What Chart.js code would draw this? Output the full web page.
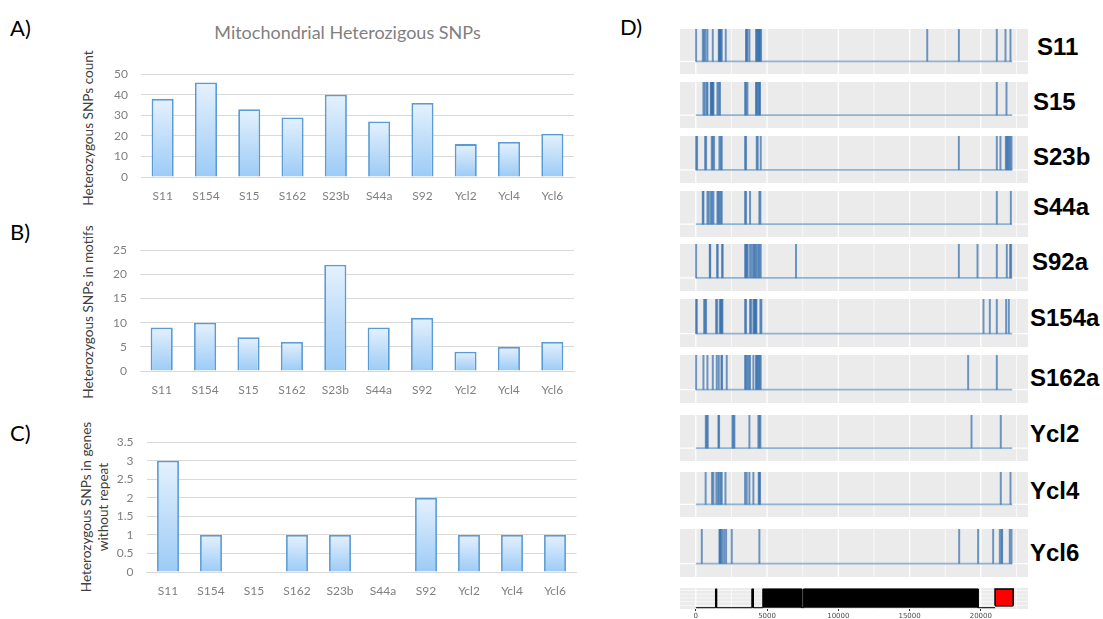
<!DOCTYPE html>
<html>
<head>
<meta charset="utf-8">
<script src="https://cdn.jsdelivr.net/npm/chart.js@4.4.1/dist/chart.umd.min.js"></script>
<style>
  html, body { margin: 0; padding: 0; background: #fff; }
  body { width: 1103px; height: 619px; position: relative; overflow: hidden; font-family: Lato, sans-serif; }
  canvas { position: absolute; display: block; }
  .letter { position: absolute; font: 22px Lato, sans-serif; color: #000; line-height: 1; transform: translateY(-50%); }
  .track-name { position: absolute; font: bold 24px "Liberation Sans", Arial, sans-serif; color: #000; line-height: 1; transform: translateY(-50%); }
  .ytitle { position: absolute; font: 13.6px Lato, sans-serif; color: #404040; line-height: 17px; text-align: center; white-space: nowrap;
            transform: translate(-50%, -50%) rotate(-90deg); }
  #mainTitle { position: absolute; left: 0; width: 695px; top: 22px; text-align: center; font: 18px Lato, sans-serif; color: #7f7f7f; line-height: 1.2; }
</style>
</head>
<body>
<div id="mainTitle">Mitochondrial Heterozigous SNPs</div>
<div class="letter" style="left:10px; top:28px;">A)</div>
<div class="letter" style="left:10px; top:232px;">B)</div>
<div class="letter" style="left:10px; top:433px;">C)</div>
<div class="letter" style="left:620px; top:27px;">D)</div>
<div class="ytitle" style="left:88px; top:128px;">Heterozygous SNPs count</div>
<div class="ytitle" style="left:88px; top:312px;">Heterozygous SNPs in motifs</div>
<div class="ytitle" style="left:95px; top:507px;">Heterozygous SNPs in genes<br>without repeat</div>

<script>
// ---- Bar chart data (panels A–C) ----
const samples = ['S11', 'S154', 'S15', 'S162', 'S23b', 'S44a', 'S92', 'Ycl2', 'Ycl4', 'Ycl6'];
const snpCount = [38, 46, 33, 29, 40, 27, 36, 16, 17, 21];
const snpInMotifs = [9, 10, 7, 6, 22, 9, 11, 4, 5, 6];
const snpInGenesNoRepeat = [3, 1, 0, 1, 1, 0, 2, 1, 1, 1];

// ---- SNP positions along the mitochondrial genome (panel D) ----
const trackNames = ['S11', 'S15', 'S23b', 'S44a', 'S92a', 'S154a', 'S162a', 'Ycl2', 'Ycl4', 'Ycl6'];
const posS11 = [20, 490, 580, 680, 815, 1190, 1610, 1650, 1680, 1720, 1750, 1820, 2100, 3525, 3560, 3620, 3760,
  4230, 4275, 4320, 4390, 4420, 4460, 4510, 4580, 16240, 18460, 21120, 21730, 22080];
const posS15 = [535, 630, 770, 815, 1050, 1080, 1120, 1160, 1190, 1236, 1516, 1610, 1700, 3456, 3526, 3620,
  4227, 4260, 4320, 4414, 4460, 4507, 21120, 21800];
const posS23b = [21, 91, 652, 722, 1120, 1190, 1283, 1656, 1750, 1820, 3456, 3526, 4274, 4344, 4554, 18458,
  21122, 21378, 21752, 21822, 21892, 21962, 22055, 22150];
const posS44a = [488, 535, 815, 909, 1049, 1143, 1236, 1516, 1586, 1656, 1750, 1820, 3456, 3526, 3806, 4460,
  4530, 21122, 22104];
const posS92a = [21, 980, 1010, 1500, 1530, 1850, 1880, 3456, 3526, 3573, 3643, 3806, 3923, 4040, 4110, 4180,
  4274, 4390, 4460, 4554, 7031, 18458, 19766, 21122, 21822, 22055, 22125];
const posS154a = [21, 68, 582, 652, 722, 1423, 1493, 1680, 1750, 1780, 1820, 1867, 3456, 3526, 3806, 3876, 4040,
  4110, 4140, 4180, 4210, 4250, 4530, 4600, 20187, 20630, 21122, 21775, 21962];
const posS162a = [21, 535, 815, 1190, 1470, 1610, 1797, 1843, 2170, 3456, 3526, 3620, 3713, 3806, 4040, 4227,
  4274, 4344, 4414, 4484, 4554, 19111, 21122];
const posYcl2 = [699, 769, 839, 1586, 1633, 2568, 2638, 2708, 3760, 4390, 4460, 4530, 19347, 21400];
const posYcl4 = [690, 1140, 1236, 1440, 1560, 1656, 1750, 1820, 2080, 3456, 3573, 3760, 4040, 4414, 4460, 4507,
  21400, 22082];
const posYcl6 = [420, 1656, 1700, 1750, 1843, 1985, 2124, 2521, 4460, 18480, 19810, 20865, 21333, 21450, 21494,
  22030, 22150];
const trackPositions = [posS11, posS15, posS23b, posS44a, posS92a, posS154a, posS162a, posYcl2, posYcl4, posYcl6];

// genome extent and annotation track
const genomeSpan = [0, 22200];
const geneSpans = [[1380, 1460], [3930, 4040], [4700, 7440], [7560, 19810]];
const markerBox = [21000, 22270];
const axisTicks = [0, 5000, 10000, 15000, 20000];

// ---- layout ----
const X_MIN = -1110, X_MAX = 23310;
const trackTops = [29, 82, 136, 191, 244, 299, 355, 415, 472, 529];
const trackHeights = [45, 46, 47, 46, 47, 48, 48, 46, 45, 48];
const labelLeft = [1037, 1033, 1033, 1033, 1032, 1030, 1030, 1030, 1030, 1030];
const labelMid = [47, 102, 157, 207, 262, 318, 378, 434, 491, 553];

function makeCanvas(left, top, width, height) {
  const c = document.createElement('canvas');
  c.width = width; c.height = height;
  c.style.left = left + 'px'; c.style.top = top + 'px';
  c.style.width = width + 'px'; c.style.height = height + 'px';
  document.body.appendChild(c);
  return c;
}

// gradient fill for each bar, light at the top and deeper blue at the base
function barFill(ctx) {
  const chart = ctx.chart;
  if (ctx.type !== 'data' || !chart.chartArea || !chart.scales.y) return '#bcdcf8';
  const ys = chart.scales.y;
  const top = ys.getPixelForValue(ctx.parsed.y);
  const base = ys.getPixelForValue(0);
  if (!(base > top)) return '#bcdcf8';
  const g = chart.ctx.createLinearGradient(0, top, 0, base);
  g.addColorStop(0, '#e5f1fd');
  g.addColorStop(1, '#9ccbf6');
  return g;
}

const tickFont = { family: 'Lato', size: 12 };
const tickColor = '#808080';

function barPanel(box, values, yMax, step) {
  const c = makeCanvas(box.left, box.top, box.width, box.height);
  return new Chart(c, {
    type: 'bar',
    data: {
      labels: samples,
      datasets: [{
        data: values,
        backgroundColor: barFill,
        borderColor: '#5b9bd5',
        borderWidth: ctx => (ctx.parsed && ctx.parsed.y === 0 ? 0 : 1.8),
        barPercentage: 0.51,
        categoryPercentage: 1
      }]
    },
    options: {
      responsive: false,
      animation: false,
      devicePixelRatio: 1,
      layout: { padding: { top: box.padTop, right: box.padRight, left: 0, bottom: 0 } },
      plugins: { legend: { display: false }, tooltip: { enabled: false } },
      scales: {
        x: {
          grid: { display: false, drawTicks: false },
          border: { display: true, color: '#d9d9d9' },
          ticks: { color: tickColor, font: tickFont, padding: box.xPad, maxRotation: 0, autoSkip: false },
          afterFit: s => { s.height = box.xAxisH; }
        },
        y: {
          min: 0, max: yMax,
          ticks: { stepSize: step, color: tickColor, font: tickFont, padding: 13, callback: v => String(v) },
          grid: { color: '#d9d9d9', drawTicks: false },
          border: { display: false },
          afterFit: s => { s.width = box.yAxisW; }
        }
      }
    }
  });
}

barPanel({ left: 100, top: 54, width: 480, height: 153, padTop: 10, padRight: 6, xAxisH: 30, yAxisW: 41, xPad: 12 },
  snpCount, 50, 10);
barPanel({ left: 100, top: 230, width: 480, height: 171, padTop: 10, padRight: 6, xAxisH: 30, yAxisW: 40, xPad: 12 },
  snpInMotifs, 25, 5);
barPanel({ left: 110, top: 422, width: 470, height: 180, padTop: 10, padRight: 3.5, xAxisH: 30, yAxisW: 36.5, xPad: 12 },
  snpInGenesNoRepeat, 3.5, 0.5);

// grey panel background with white grid, drawn beneath the data
const panelGrid = {
  id: 'panelGrid',
  beforeDatasetsDraw(chart, args, opts) {
    const { ctx, chartArea: a, scales: { x, y } } = chart;
    ctx.save();
    ctx.fillStyle = '#ebebeb';
    ctx.fillRect(a.left, a.top, a.right - a.left, a.bottom - a.top);
    ctx.strokeStyle = '#ffffff';
    for (let v = 0; v <= X_MAX; v += 2500) {
      const px = x.getPixelForValue(v);
      ctx.lineWidth = v % 5000 === 0 ? 1.2 : 0.7;
      ctx.beginPath(); ctx.moveTo(px, a.top); ctx.lineTo(px, a.bottom); ctx.stroke();
    }
    (opts.hLines || []).forEach(v => {
      const py = y.getPixelForValue(v);
      ctx.lineWidth = opts.hWidth || 1;
      ctx.beginPath(); ctx.moveTo(a.left, py); ctx.lineTo(a.right, py); ctx.stroke();
    });
    ctx.restore();
  }
};

const spikeColor = 'rgba(55,112,175,0.72)';
const baseColor = 'rgba(70,130,185,0.6)';

trackPositions.forEach((positions, i) => {
  const c = makeCanvas(680, trackTops[i], 348, trackHeights[i]);
  new Chart(c, {
    type: 'bar',
    data: {
      datasets: [
        {
          type: 'line',
          data: genomeSpan.map(v => ({ x: v, y: 0 })),
          borderColor: baseColor, borderWidth: 1.8, pointRadius: 0
        },
        {
          type: 'bar',
          data: positions.map(p => ({ x: p, y: 1 })),
          backgroundColor: spikeColor, borderWidth: 0, barThickness: 1.3
        }
      ]
    },
    options: {
      responsive: false, animation: false, devicePixelRatio: 1,
      layout: { padding: 0 },
      plugins: { legend: { display: false }, tooltip: { enabled: false }, panelGrid: { hLines: [0], hWidth: 1.2 } },
      scales: {
        x: { type: 'linear', min: X_MIN, max: X_MAX, offset: false, display: false },
        y: { min: -0.39, max: 1, display: false }
      }
    },
    plugins: [panelGrid]
  });

  const lab = document.createElement('div');
  lab.className = 'track-name';
  lab.textContent = trackNames[i];
  lab.style.left = labelLeft[i] + 'px';
  lab.style.top = labelMid[i] + 'px';
  document.body.appendChild(lab);
});

// annotation track: genes as filled black blocks on the baseline, red marker box at the end
const geneOutline = [{ x: genomeSpan[0], y: 0 }];
geneSpans.forEach(([s, e]) => {
  geneOutline.push({ x: s, y: 0 }, { x: s, y: 1 }, { x: e, y: 1 }, { x: e, y: 0 });
});
geneOutline.push({ x: markerBox[0], y: 0 });
const boxLow = 0.1, boxHigh = 1;

const gc = makeCanvas(680, 588, 348, 31);
new Chart(gc, {
  type: 'line',
  data: {
    datasets: [
      { data: geneOutline, borderColor: '#000', backgroundColor: '#000', borderWidth: 1, fill: 'origin', pointRadius: 0 },
      {
        data: [{ x: markerBox[0], y: boxLow }, { x: markerBox[0], y: boxHigh }, { x: markerBox[1], y: boxHigh }, { x: markerBox[1], y: boxLow }],
        borderColor: '#000', backgroundColor: '#ff0000', borderWidth: 1.6, fill: { value: boxLow }, pointRadius: 0
      },
      {
        data: markerBox.map(v => ({ x: v, y: boxLow })),
        borderColor: '#000', borderWidth: 1.6, pointRadius: 0
      }
    ]
  },
  options: {
    responsive: false, animation: false, devicePixelRatio: 1,
    layout: { padding: 0 },
    plugins: { legend: { display: false }, tooltip: { enabled: false }, panelGrid: { hLines: [0.12, 0.32, 0.52, 0.72, 0.92], hWidth: 0.6 } },
    scales: {
      x: {
        type: 'linear', min: X_MIN, max: X_MAX,
        afterBuildTicks: s => { s.ticks = axisTicks.map(v => ({ value: v })); },
        ticks: { callback: v => String(v), font: { family: 'DejaVu Sans', size: 7 }, color: '#4d4d4d', padding: 1, maxRotation: 0, autoSkip: false },
        grid: { drawOnChartArea: false, drawTicks: true, tickLength: 2, tickColor: '#333' },
        border: { display: false },
        afterFit: s => { s.height = 10; }
      },
      y: { min: -0.07, max: 1.05, display: false }
    }
  },
  plugins: [panelGrid]
});
</script>
</body>
</html>
